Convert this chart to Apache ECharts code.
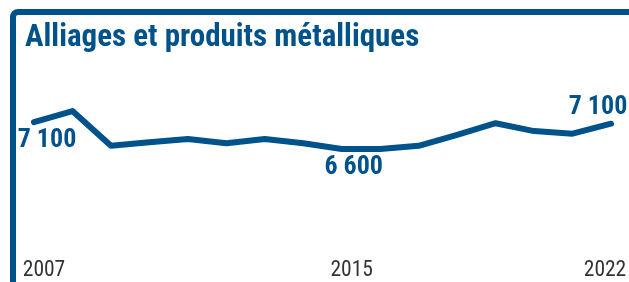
<!DOCTYPE html>
<html>
<head>
<meta charset="utf-8">
<script src="https://cdn.jsdelivr.net/npm/echarts@6/dist/echarts.min.js"></script>
<style>
  html, body { margin: 0; padding: 0; background: #fff; }
  #chart { width: 629px; height: 282px; }
</style>
</head>
<body>
<div id="chart"></div>
<script>
const titleText = 'Alliages et produits métalliques';
const years = ['2007','2008','2009','2010','2011','2012','2013','2014','2015','2016','2017','2018','2019','2020','2021','2022'];
const values = [7110, 7320, 6660, 6730, 6790, 6710, 6790, 6710, 6600, 6600, 6660, 6870, 7090, 6940, 6890, 7080];
const shownTicks = ['2007', '2015', '2022'];
const labelled = { '2007': '7 100', '2015': '6 600', '2022': '7 100' };

const BLUE = '#00528a';
const FONT = '"Roboto Condensed", "Liberation Sans Narrow", sans-serif';

const labelOffsets = { '2007': [13, 18], '2015': [12, 19], '2022': [-13, -16] };

const seriesData = values.map((v, i) => {
  const y = years[i];
  if (labelled[y]) {
    return {
      value: v,
      label: {
        show: true,
        position: 'inside',
        offset: labelOffsets[y],
        formatter: labelled[y],
        color: BLUE,
        fontFamily: FONT,
        fontWeight: 'bold',
        fontSize: 26
      }
    };
  }
  return v;
});

const chart = echarts.init(document.getElementById('chart'), null, { renderer: 'canvas' });
chart.setOption({
  animation: false,
  backgroundColor: '#fff',
  title: {
    text: titleText,
    left: 25,
    top: 23,
    padding: 0,
    textStyle: { color: BLUE, fontFamily: FONT, fontWeight: 'bold', fontSize: 31 }
  },
  graphic: [{
    type: 'rect',
    shape: { x: 13, y: 12, width: 700, height: 400, r: 5 },
    style: { fill: 'none', stroke: BLUE, lineWidth: 6 },
    silent: true
  }],
  grid: { left: 34, right: 18, top: 101.6, bottom: 27.7, containLabel: false, outerBoundsMode: 'none' },
  xAxis: {
    type: 'category',
    data: years,
    boundaryGap: false,
    axisLine: { show: false },
    axisTick: { show: false },
    splitLine: { show: false },
    axisLabel: {
      interval: (idx, val) => shownTicks.includes(val),
      margin: 5,
      color: '#333',
      fontFamily: FONT,
      fontSize: 21.5,
      formatter: (val) => val === '2022' ? '{b|' + val + '}' : '{a|' + val + '}',
      rich: {
        a: { padding: [0, 0, 0, 20], color: '#333', fontFamily: FONT, fontSize: 21.5 },
        b: { padding: [0, 12, 0, 0], color: '#333', fontFamily: FONT, fontSize: 21.5 }
      }
    }
  },
  yAxis: {
    type: 'value',
    min: 4600,
    max: 7500,
    show: false
  },
  series: [{
    type: 'line',
    data: seriesData,
    symbol: 'circle',
    symbolSize: 1,
    showSymbol: true,
    itemStyle: { color: BLUE },
    lineStyle: { color: BLUE, width: 6, cap: 'round', join: 'round' },
    label: { show: false }
  }]
});
</script>
</body>
</html>
